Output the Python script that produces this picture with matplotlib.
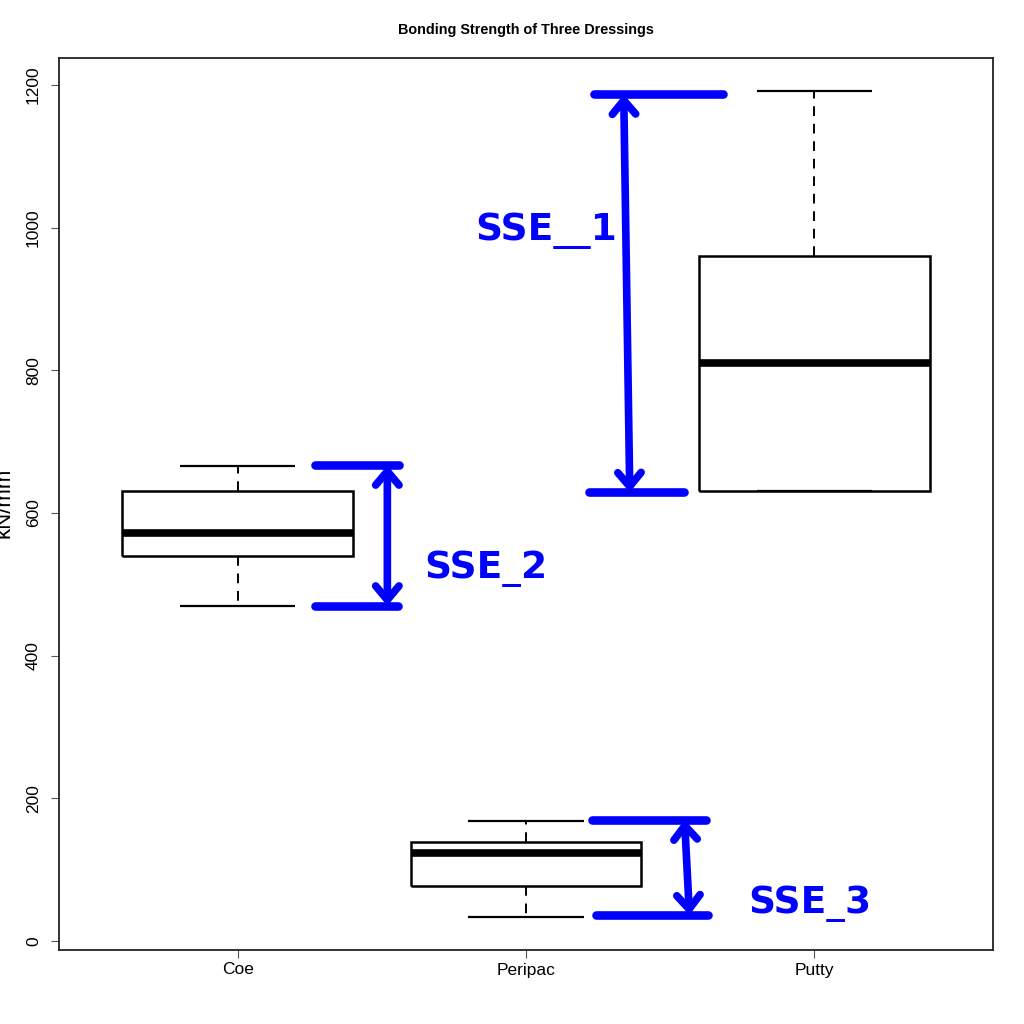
import numpy as np
import matplotlib
matplotlib.use('Agg')
import matplotlib.pyplot as plt

plt.rcParams['font.family'] = ['Liberation Sans', 'DejaVu Sans']

# Box statistics
groups = ['Coe', 'Peripac', 'Putty']
q1 = [540, 77, 631]
med = [572, 123, 810]
q3 = [631, 139, 960]
whislo = [470, 34, 631]
whishi = [666, 168, 1192]

# Blue annotation marks (x in group units, y in kN/mm)
hlines_y = [1187, 629, 667, 470, 170, 36.5]
hlines_x0 = [2.235, 2.218, 1.267, 1.267, 2.229, 2.242]
hlines_x1 = [2.682, 2.547, 1.560, 1.557, 2.623, 2.633]
arrows = [((2.339, 1187), (2.360, 629)),
          ((1.519, 667), (1.519, 470)),
          ((2.550, 170), (2.567, 36.5))]
labels = ['SSE__1', 'SSE_2', 'SSE_3']
label_x = [2.069, 1.862, 2.986]
label_y = [983, 509, 39]

fig = plt.figure(figsize=(10.24, 10.24), dpi=100)
ax = fig.add_axes([59/1024, 1 - 950/1024, (993 - 59)/1024, (950 - 58)/1024])

stats = []
for i, g in enumerate(groups):
    stats.append(dict(label=g, med=med[i], q1=q1[i], q3=q3[i],
                      whislo=whislo[i], whishi=whishi[i], fliers=[]))

pos = np.arange(1, len(groups) + 1)
ax.bxp(stats, positions=pos, widths=0.8, capwidths=0.4, showfliers=False,
       boxprops=dict(color='black', lw=1.8, solid_joinstyle='miter',
                     solid_capstyle='butt'),
       medianprops=dict(color='black', lw=5.5, solid_capstyle='butt'),
       whiskerprops=dict(color='black', lw=1.4, linestyle=(0, (5, 4))),
       capprops=dict(color='black', lw=1.6, solid_capstyle='butt'))

blue = '#0000FF'
for y, x0, x1 in zip(hlines_y, hlines_x0, hlines_x1):
    ax.plot([x0, x1], [y, y], color=blue, lw=6.2, solid_capstyle='round')

for a, b in arrows:
    ax.annotate('', xy=b, xytext=a,
                arrowprops=dict(arrowstyle='<->,head_length=0.5,head_width=0.42',
                                color=blue, lw=5.5, shrinkA=0, shrinkB=0,
                                mutation_scale=20, capstyle='round',
                                joinstyle='round'))

for t, x, y in zip(labels, label_x, label_y):
    ax.text(x, y, t, color=blue, fontsize=27, fontweight='bold',
            family='DejaVu Sans', ha='center', va='baseline')

ax.set_xlim(0.38, 3.62)
ax.set_ylim(-12.6, 1238)
ax.set_xticks(pos)
ax.set_xticklabels(groups)
ax.set_yticks([0, 200, 400, 600, 800, 1000, 1200])
ax.tick_params(axis='y', labelrotation=90, length=6, width=0.8, pad=7,
               labelsize=12.5, color='#555555')
ax.tick_params(axis='x', length=6, width=0.8, pad=3, labelsize=12.5,
               color='#555555')
for lab in ax.get_yticklabels():
    lab.set_va('center')
for s in ax.spines.values():
    s.set_linewidth(1.3)
    s.set_color('#222222')

fig.text(526/1024, 1 - 30/1024, 'Bonding Strength of Three Dressings',
         ha='center', va='center', fontsize=10.4, fontweight='bold')
fig.text(4/1024, 1 - 503/1024, 'kN/mm', rotation=90, ha='center',
         va='center', fontsize=16)

fig.savefig('out.png', dpi=100)
